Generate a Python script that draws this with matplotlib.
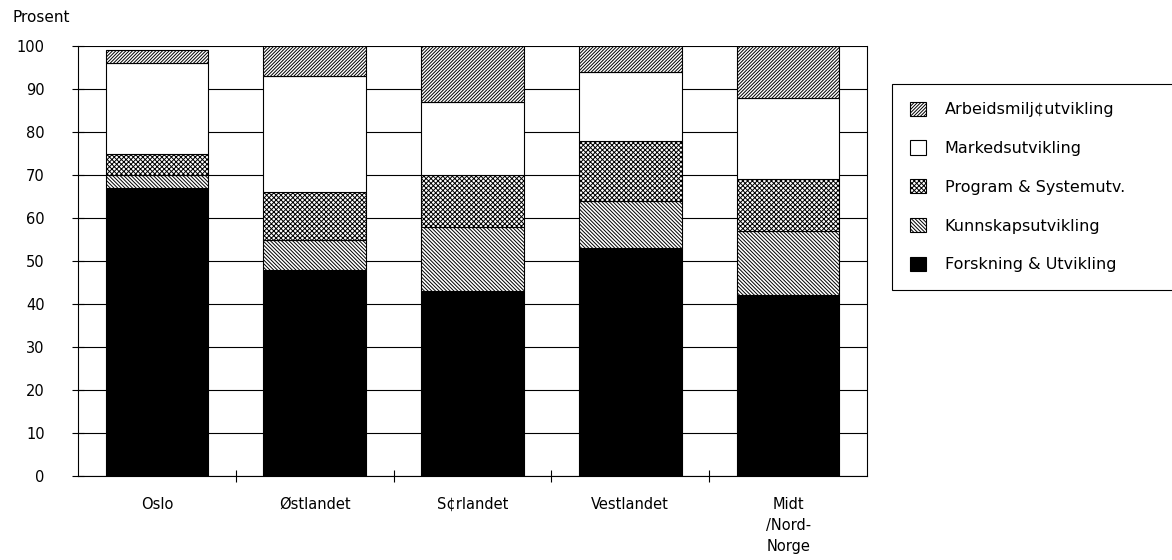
import matplotlib
matplotlib.use('Agg')
import matplotlib.pyplot as plt
import numpy as np
from matplotlib.patches import Patch

# data (percent, stacked bottom -> top)
regions = ['Oslo', 'Østlandet', 'S¢rlandet', 'Vestlandet', 'Midt\n/Nord-\nNorge']
forskning = [67, 48, 43, 53, 42]
kunnskap = [3, 7, 15, 11, 15]
program = [5, 11, 12, 14, 12]
marked = [21, 27, 17, 16, 19]
arbeidsmiljo = [3, 7, 13, 6, 12]

series = [
    ('Forskning & Utvikling', forskning, 'black', ''),
    ('Kunnskapsutvikling', kunnskap, 'white', '\\' * 9),
    ('Program & Systemutv.', program, 'white', 'x' * 7),
    ('Markedsutvikling', marked, 'white', ''),
    ('Arbeidsmilj¢utvikling', arbeidsmiljo, 'white', '/' * 10),
]

plt.rcParams['font.family'] = ['DejaVu Sans']
plt.rcParams['hatch.linewidth'] = 0.7
plt.rcParams['hatch.color'] = 'black'

fig = plt.figure(figsize=(11.72, 5.6), dpi=100)
ax = fig.add_axes([78/1172, 84/560, (867-78)/1172, (476-46)/560])

x = np.arange(len(regions))
bottom = np.zeros(len(regions))
handles = []
for name, vals, fc, hatch in series:
    ax.bar(x, vals, 0.65, bottom=bottom, color=fc, edgecolor='black',
           hatch=hatch, linewidth=0.8, zorder=3)
    bottom += np.array(vals)
    handles.append(Patch(facecolor=fc, edgecolor='black', hatch=hatch,
                         linewidth=0.8, label=name))

ax.set_xlim(-0.5, len(regions) - 0.5)
ax.set_ylim(0, 100)
ax.set_yticks(np.arange(0, 101, 10))
ax.yaxis.grid(True, color='black', linewidth=0.8, zorder=0)
ax.set_axisbelow(True)

ax.set_xticks(x)
ax.set_xticklabels(regions, fontsize=10.5, linespacing=1.5, va='top')
ax.set_xticks(np.arange(0.5, len(regions) - 0.5, 1), minor=True)
ax.tick_params(axis='x', which='major', length=0, pad=15)
ax.tick_params(axis='x', which='minor', direction='inout', length=8, width=0.8)
ax.tick_params(axis='y', direction='inout', length=8, width=0.8,
               labelsize=10.5, pad=20)

for s in ['left', 'right', 'bottom']:
    ax.spines[s].set_linewidth(0.8)
ax.spines['top'].set_visible(False)

fig.text(12/1172, 1 - 18/560, 'Prosent', fontsize=11, va='center', ha='left')

handles = handles[::-1]
leg = fig.legend(handles=handles, loc='upper left', mode='expand',
                 bbox_to_anchor=(892/1172, (560-291)/560, 300/1172, 207/560),
                 fontsize=11.5, frameon=True, fancybox=False,
                 edgecolor='black', framealpha=1,
                 handlelength=1.0, handleheight=1.0, handletextpad=1.2,
                 labelspacing=1.45, borderpad=1.1, borderaxespad=0)
leg.get_frame().set_linewidth(0.8)

fig.savefig('out.png', dpi=100)
